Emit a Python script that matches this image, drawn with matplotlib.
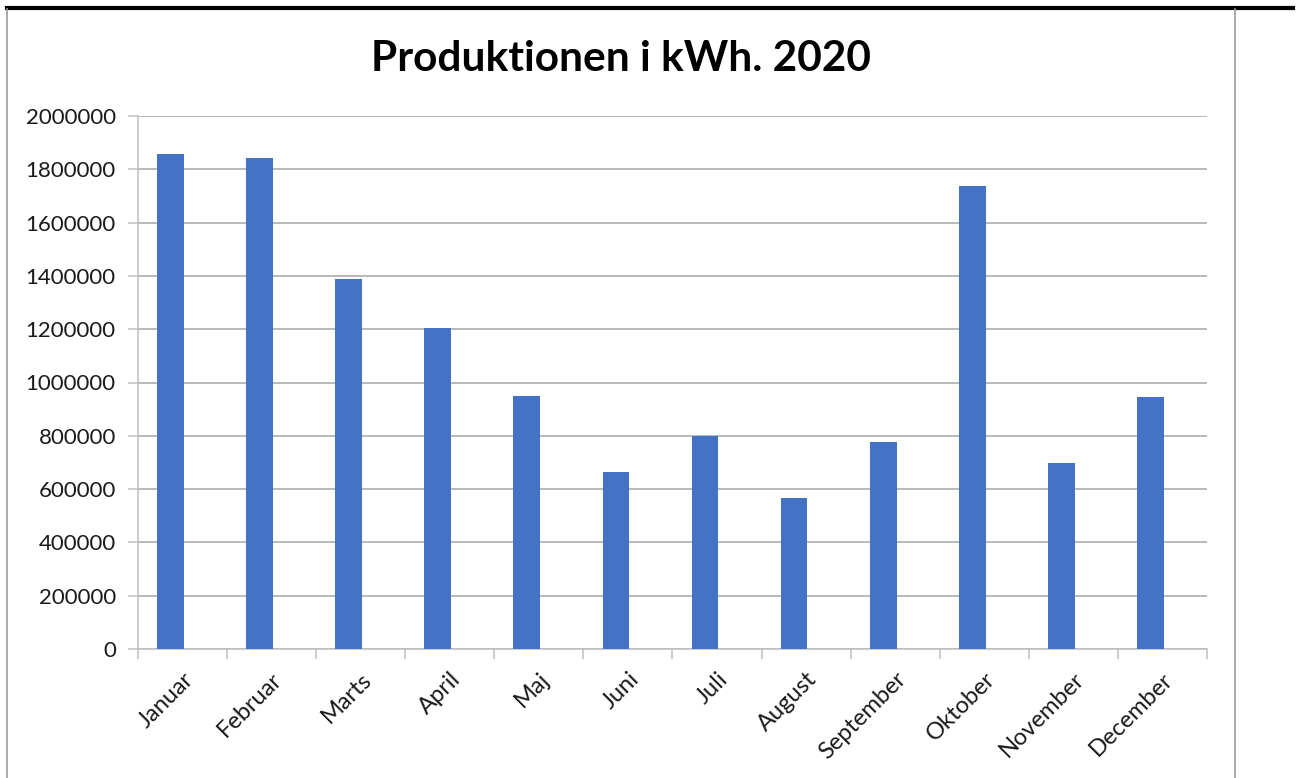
import matplotlib
import matplotlib.pyplot as plt
from matplotlib.lines import Line2D
from matplotlib.ticker import FixedLocator, FuncFormatter

matplotlib.use("Agg")

# Monthly production
maaneder = ["Januar", "Februar", "Marts", "April", "Maj", "Juni",
            "Juli", "August", "September", "Oktober", "November", "December"]
produktion = [1857000, 1842000, 1389000, 1205000, 949000, 666000,
              799000, 567000, 778000, 1737000, 697000, 944000]
y_ticks = [0, 200000, 400000, 600000, 800000, 1000000,
           1200000, 1400000, 1600000, 1800000, 2000000]

BAR_COLOR = "#4472C4"
GRID_COLOR = "#A6A6A6"
AXIS_COLOR = "#BFBFBF"
BAR_SHIFT = -0.135  # bars sit a little left of the category centre

plt.rcParams["font.family"] = ["Lato", "DejaVu Sans"]

fig = plt.figure(figsize=(12.98, 7.78), dpi=100)
W, H = 1298, 778
ax = fig.add_axes([138 / W, 1 - 649 / H, (1207 - 138) / W, (649 - 116) / H])

x = list(range(len(maaneder)))
ax.bar([i + BAR_SHIFT for i in x], produktion, width=0.3, color=BAR_COLOR,
       zorder=3)

ax.set_xlim(-0.5, len(maaneder) - 0.5)
ax.set_ylim(0, 2000000)

ax.set_yticks(y_ticks)
ax.yaxis.set_major_formatter(FuncFormatter(lambda v, _: f"{int(v)}"))
ax.grid(axis="y", color=GRID_COLOR, linewidth=1.1, zorder=0)

ax.set_xticks(x)
ax.set_xticklabels(maaneder, rotation=45, ha="right", va="top",
                   rotation_mode="anchor")
ax.xaxis.set_minor_locator(FixedLocator([i - 0.5 for i in range(len(maaneder) + 1)]))
ax.tick_params(axis="x", which="major", length=0, pad=14, labelsize=17,
               labelcolor="#1a1a1a")
ax.tick_params(axis="x", which="minor", length=7, width=1.1, color=AXIS_COLOR)
ax.tick_params(axis="y", length=7, width=1.1, color=AXIS_COLOR, pad=9,
               labelsize=16, labelcolor="#1a1a1a")

for side in ("top", "right"):
    ax.spines[side].set_visible(False)
for side in ("left", "bottom"):
    ax.spines[side].set_color(AXIS_COLOR)
    ax.spines[side].set_linewidth(1.1)

fig.text(621 / W, 1 - 59 / H, "Produktionen i kWh. 2020", ha="center",
         va="center", fontsize=30.5, fontweight="bold", color="black")

# frame lines around the chart area
fig.add_artist(Line2D([7 / W, 1293 / W], [1 - 8 / H, 1 - 8 / H],
                      color="black", linewidth=3))
fig.add_artist(Line2D([7 / W, 7 / W], [0, 1 - 9 / H],
                      color="#9A9A9A", linewidth=1.2))
fig.add_artist(Line2D([1235 / W, 1235 / W], [0, 1 - 9 / H],
                      color="#9A9A9A", linewidth=1.2))

fig.savefig("out.png", dpi=100)
